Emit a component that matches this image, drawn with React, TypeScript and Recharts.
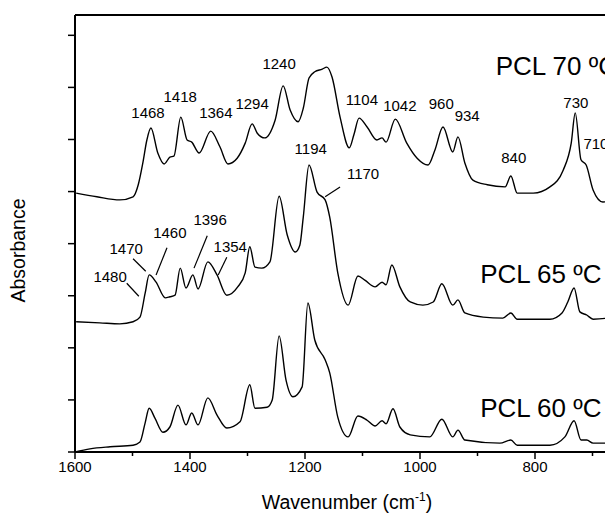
import React from 'react';
import { LineChart, Line, XAxis, YAxis, ReferenceDot, ReferenceLine } from 'recharts';

// PCL 70 ºC spectrum (wavenumber, absorbance offset)
const pcl70Wn = [1598, 1562, 1522, 1499, 1490, 1482, 1475, 1468, 1456, 1445, 1435, 1428, 1416, 1405, 1397, 1384, 1364, 1348, 1334, 1318, 1304, 1292, 1283, 1270, 1252, 1238, 1226, 1212, 1203, 1193, 1183, 1170, 1162, 1153, 1139, 1123, 1115, 1106, 1092, 1075, 1066, 1059, 1043, 1023, 1005, 986, 974, 960, 943, 934, 922, 908, 883, 852, 842, 831, 803, 774, 751, 737, 730, 720, 711, 699, 682, 664];
const pcl70Abs = [4.97, 4.9, 4.84, 4.9, 5.13, 5.55, 5.99, 6.22, 5.74, 5.53, 5.66, 5.68, 6.43, 5.99, 5.95, 5.74, 6.16, 5.86, 5.53, 5.64, 5.93, 6.3, 6.12, 6.03, 6.37, 7.03, 6.57, 6.34, 6.6, 7.18, 7.3, 7.35, 7.39, 7.2, 6.43, 5.84, 6.09, 6.41, 6.24, 5.99, 6.03, 5.95, 6.39, 5.93, 5.64, 5.51, 5.8, 6.24, 5.76, 6.05, 5.55, 5.22, 5.13, 5.09, 5.3, 4.97, 4.97, 5.09, 5.41, 5.93, 6.51, 5.61, 5.51, 5.03, 4.8, 4.84];

// PCL 65 ºC spectrum
const pcl65Wn = [1598, 1557, 1522, 1499, 1487, 1478, 1471, 1459, 1443, 1435, 1426, 1417, 1407, 1395, 1386, 1369, 1353, 1336, 1317, 1304, 1296, 1287, 1275, 1261, 1245, 1231, 1217, 1209, 1203, 1193, 1179, 1165, 1157, 1143, 1125, 1108, 1096, 1078, 1066, 1059, 1049, 1035, 1017, 995, 977, 962, 943, 934, 922, 890, 856, 842, 831, 774, 753, 743, 732, 722, 710, 699, 675, 670, 664];
const pcl65Abs = [2.5, 2.48, 2.46, 2.5, 2.59, 3.05, 3.4, 3.26, 2.96, 2.98, 3.01, 3.53, 3.15, 3.4, 3.13, 3.65, 3.4, 3.01, 3.17, 3.44, 3.94, 3.55, 3.53, 3.65, 4.91, 4.17, 3.84, 3.97, 4.51, 5.51, 4.99, 4.84, 4.51, 3.44, 2.82, 3.38, 3.3, 3.17, 3.26, 3.21, 3.59, 3.17, 2.88, 2.82, 2.88, 3.23, 2.82, 2.92, 2.67, 2.59, 2.57, 2.67, 2.55, 2.55, 2.67, 2.88, 3.15, 2.69, 2.63, 2.55, 2.57, 2.69, 2.55];

// PCL 60 ºC spectrum
const pcl60Wn = [1600, 1574, 1539, 1499, 1487, 1478, 1471, 1461, 1447, 1435, 1421, 1407, 1397, 1386, 1369, 1353, 1336, 1313, 1296, 1287, 1266, 1257, 1245, 1233, 1221, 1205, 1195, 1183, 1165, 1157, 1143, 1125, 1108, 1092, 1078, 1066, 1059, 1047, 1035, 1017, 983, 962, 943, 934, 922, 861, 842, 831, 774, 748, 732, 720, 710, 699, 675, 670, 664];
const pcl60Abs = [0, 0.06, 0.1, 0.13, 0.19, 0.56, 0.84, 0.65, 0.38, 0.48, 0.9, 0.52, 0.75, 0.52, 1.04, 0.71, 0.46, 0.58, 1.29, 0.84, 0.86, 1.0, 2.23, 1.38, 1.06, 1.25, 2.86, 2.15, 1.77, 1.52, 0.67, 0.29, 0.69, 0.61, 0.5, 0.6, 0.54, 0.83, 0.48, 0.33, 0.29, 0.63, 0.29, 0.42, 0.23, 0.17, 0.23, 0.13, 0.13, 0.29, 0.6, 0.23, 0.23, 0.17, 0.17, 0.33, 0.17];

const wnTicks = [1600, 1500, 1400, 1300, 1200, 1100, 1000, 900, 800, 700];
const absTicks = [0, 1, 2, 3, 4, 5, 6, 7, 8];
const Y_MAX = 8.39;

// band labels: text, wavenumber, absorbance of label centre
const bandLabels = [
  { text: '1468', wn: 1473, abs: 6.51 },
  { text: '1418', wn: 1417, abs: 6.83 },
  { text: '1364', wn: 1355, abs: 6.51 },
  { text: '1294', wn: 1292, abs: 6.68 },
  { text: '1240', wn: 1245, abs: 7.45 },
  { text: '1104', wn: 1101, abs: 6.76 },
  { text: '1042', wn: 1035, abs: 6.64 },
  { text: '960', wn: 963, abs: 6.68 },
  { text: '934', wn: 918, abs: 6.45 },
  { text: '840', wn: 837, abs: 5.66 },
  { text: '730', wn: 729, abs: 6.7 },
  { text: '710', wn: 694, abs: 5.91 },
  { text: '1194', wn: 1190, abs: 5.82 },
  { text: '1170', wn: 1099, abs: 5.34 },
  { text: '1480', wn: 1539, abs: 3.36 },
  { text: '1470', wn: 1511, abs: 3.9 },
  { text: '1460', wn: 1435, abs: 4.22 },
  { text: '1396', wn: 1365, abs: 4.47 },
  { text: '1354', wn: 1330, abs: 3.94 },
];

// leader lines from label to band
const leaders = [
  { wn1: 1165, a1: 4.9, wn2: 1139, a2: 5.09 },
  { wn1: 1510, a1: 3.24, wn2: 1489, a2: 2.99 },
  { wn1: 1499, a1: 3.71, wn2: 1477, a2: 3.47 },
  { wn1: 1440, a1: 3.92, wn2: 1459, a2: 3.4 },
  { wn1: 1370, a1: 4.15, wn2: 1393, a2: 3.53 },
  { wn1: 1336, a1: 3.74, wn2: 1351, a2: 3.4 },
];

const seriesNames = [
  { text: 'PCL 70 ºC', wn: 870, abs: 7.41 },
  { text: 'PCL 65 ºC', wn: 897, abs: 3.42 },
  { text: 'PCL 60 ºC', wn: 897, abs: 0.84 },
];

const toPoints = (wn: number[], abs: number[]) => wn.map((w, i) => ({ wn: w, abs: abs[i] }));

const WnTick = (props: any) => {
  const { x, y, payload } = props;
  const major = payload.value % 200 === 0;
  return (
    <g>
      <line x1={x} x2={x} y1={y} y2={y + (major ? 7 : 4)} stroke="#000" strokeWidth={1.5} />
      {major && (
        <text x={x} y={y + 20} textAnchor="middle" fontSize={15} fill="#000">
          {payload.value}
        </text>
      )}
    </g>
  );
};

// y ticks carry no labels, only the tick marks
const NoLabel = () => <g />;

const XTitle = (props: any) => {
  const { viewBox } = props;
  const cx = viewBox.x + 272;
  return (
    <text x={cx} y={viewBox.y + 57} textAnchor="middle" fontSize={19.5} fill="#000">
      Wavenumber (cm
      <tspan dy={-8} fontSize={12}>-1</tspan>
      <tspan dy={8}>)</tspan>
    </text>
  );
};

const YTitle = (props: any) => {
  const { viewBox } = props;
  const cy = viewBox.y + viewBox.height / 2 + 17;
  return (
    <text x={17} y={cy} transform={`rotate(-90 17 ${cy})`} textAnchor="middle" fontSize={19.5} fill="#000">
      Absorbance
    </text>
  );
};

export default function App() {
  const lines = [
    { key: 'p70', data: toPoints(pcl70Wn, pcl70Abs) },
    { key: 'p65', data: toPoints(pcl65Wn, pcl65Abs) },
    { key: 'p60', data: toPoints(pcl60Wn, pcl60Abs) },
  ];
  return (
    <div style={{ width: 605, height: 505, overflow: 'hidden', fontFamily: '"Liberation Sans", Arial, sans-serif' }}>
      <LineChart width={652} height={505} margin={{ top: 7, right: 10, bottom: 0, left: 0 }}>
        <XAxis
          dataKey="wn"
          type="number"
          domain={[600, 1600]}
          reversed
          ticks={wnTicks}
          interval={0}
          allowDuplicatedCategory={false}
          tick={<WnTick />}
          tickLine={false}
          tickSize={0}
          tickMargin={0}
          height={61}
          axisLine={{ stroke: '#000', strokeWidth: 2 }}
          label={<XTitle />}
        />
        <YAxis
          type="number"
          domain={[0, Y_MAX]}
          ticks={absTicks}
          interval={0}
          width={67}
          tick={<NoLabel />}
          tickSize={7}
          tickLine={{ stroke: '#000', strokeWidth: 1.5 }}
          axisLine={{ stroke: '#000', strokeWidth: 2 }}
          label={<YTitle />}
        />
        <ReferenceLine y={Y_MAX} stroke="#000" strokeWidth={2} />
        {lines.map((l) => (
          <Line
            key={l.key}
            data={l.data}
            dataKey="abs"
            type="monotone"
            stroke="#000"
            strokeWidth={1.4}
            dot={false}
            isAnimationActive={false}
          />
        ))}
        {leaders.map((s, i) => (
          <ReferenceLine
            key={'ld' + i}
            segment={[{ x: s.wn1, y: s.a1 }, { x: s.wn2, y: s.a2 }]}
            stroke="#000"
            strokeWidth={1.2}
          />
        ))}
        {bandLabels.map((b) => (
          <ReferenceDot
            key={'bl' + b.text}
            x={b.wn}
            y={b.abs}
            r={1}
            fill="none"
            stroke="none"
            label={{ value: b.text, position: 'center', fontSize: 15, fill: '#000' }}
          />
        ))}
        {seriesNames.map((s) => (
          <ReferenceDot
            key={s.text}
            x={s.wn}
            y={s.abs}
            r={1}
            fill="none"
            stroke="none"
            label={{ value: s.text, position: 'right', offset: 0, fontSize: 26, fill: '#000' }}
          />
        ))}
      </LineChart>
    </div>
  );
}
